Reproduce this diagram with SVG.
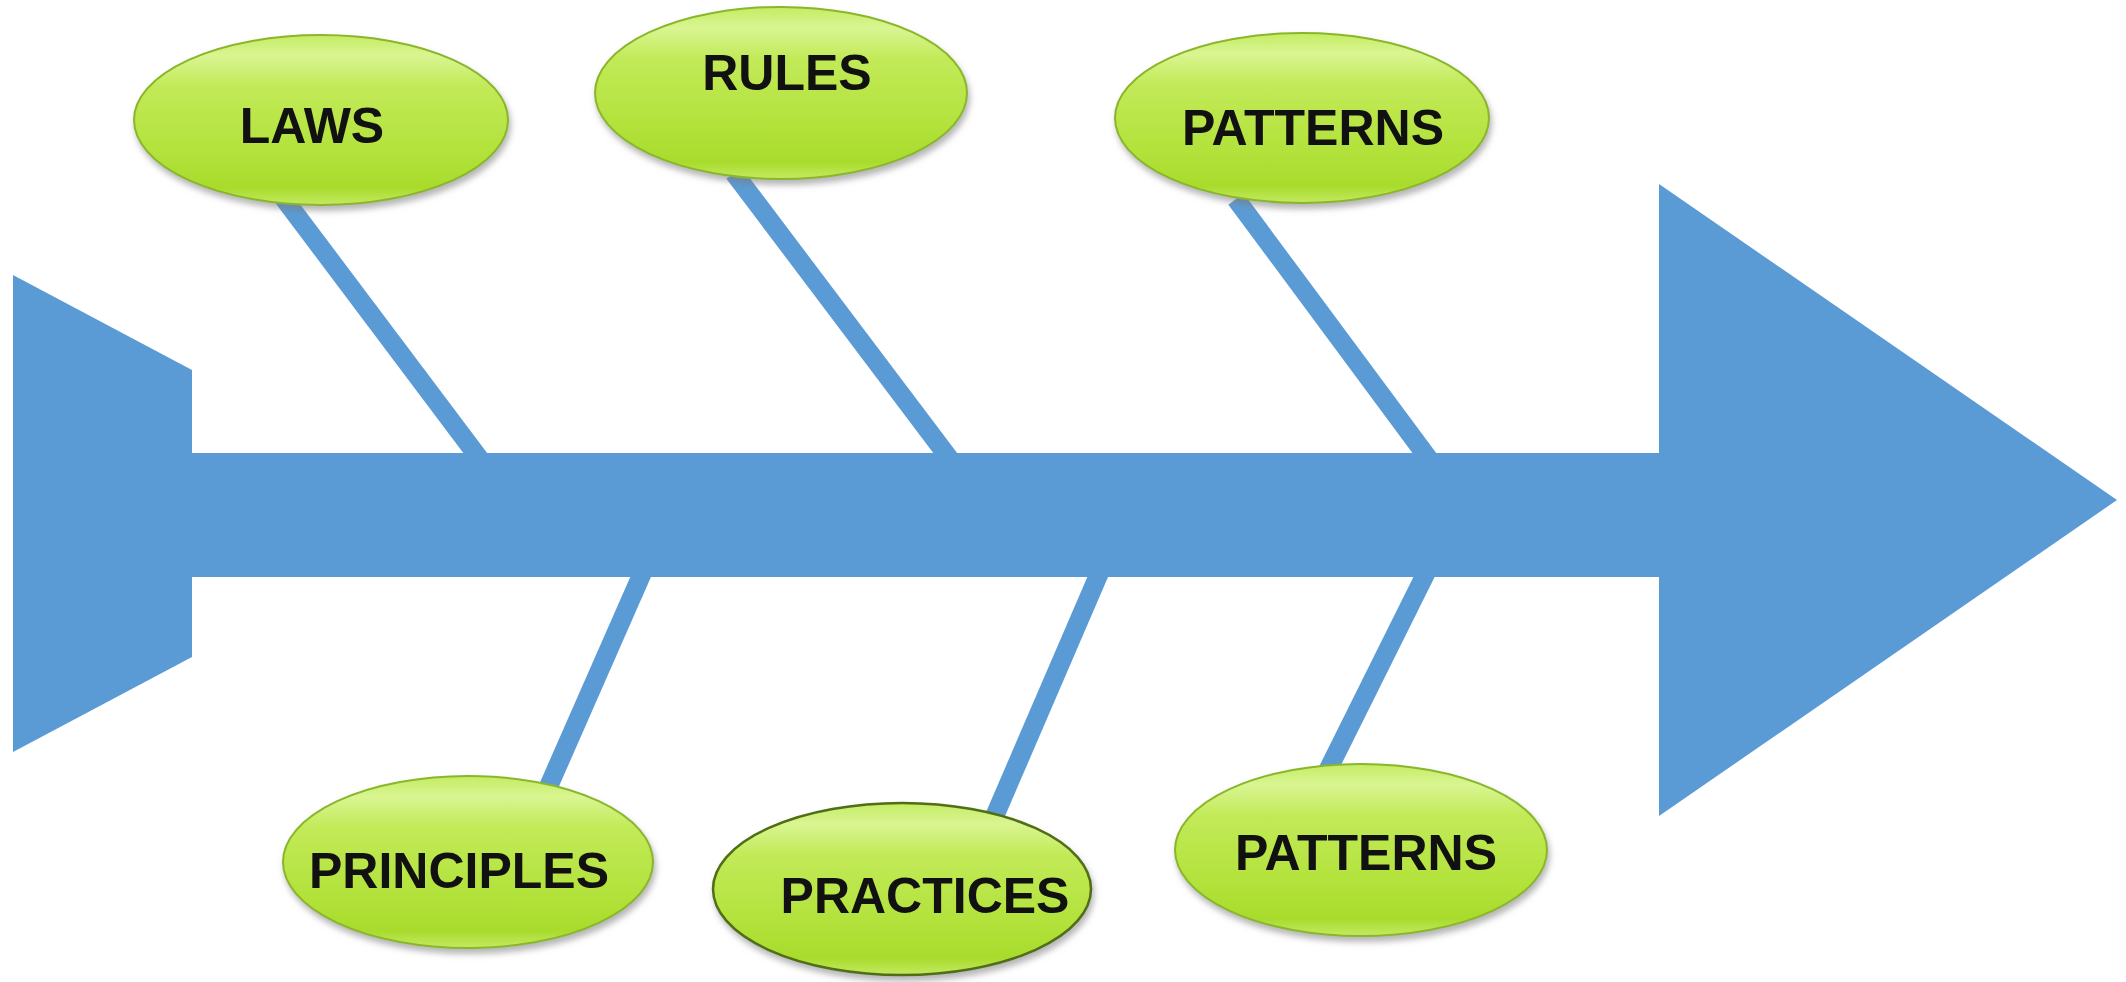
<svg xmlns="http://www.w3.org/2000/svg" width="2126" height="982" viewBox="0 0 2126 982">
  <style>
    .bone { stroke: #5b9bd5; stroke-width: 19; stroke-linecap: butt; fill: none; }
    .spine { fill: #5b9bd5; }
    .oval { fill: url(#limeGrad); stroke: #8ab62a; stroke-width: 2; filter: url(#softShadow); }
    .oval-dark { stroke: #4f6e12; stroke-width: 2.5; }
    .label { font-family: "Liberation Sans", Arial, sans-serif; font-weight: bold; font-size: 50px; fill: #111; text-anchor: middle; }
  </style>
  <defs>
    <linearGradient id="limeGrad" x1="0" y1="0" x2="0" y2="1">
      <stop offset="0" stop-color="#c4ec62"/>
      <stop offset="0.12" stop-color="#d9f592"/>
      <stop offset="0.3" stop-color="#c2ea58"/>
      <stop offset="0.7" stop-color="#b2e23a"/>
      <stop offset="0.9" stop-color="#a9db2c"/>
      <stop offset="1" stop-color="#c3ea62"/>
    </linearGradient>
    <filter id="softShadow" x="-10%" y="-10%" width="120%" height="130%">
      <feDropShadow dx="2" dy="5" stdDeviation="3" flood-color="#7a7a7a" flood-opacity="0.55"/>
    </filter>
  </defs>

  <rect width="2126" height="982" fill="#ffffff"/>

  <!-- connectors: the fish bones linking each cause to the spine -->
  <g id="connectors">
    <line class="bone" x1="282" y1="196" x2="482" y2="462"/>
    <line class="bone" x1="734" y1="173" x2="952" y2="462"/>
    <line class="bone" x1="1236" y1="199" x2="1431" y2="462"/>
    <line class="bone" x1="645" y1="567" x2="547" y2="790"/>
    <line class="bone" x1="1102" y1="567" x2="993" y2="820"/>
    <line class="bone" x1="1429" y1="567" x2="1325" y2="776"/>
  </g>

  <!-- spine: tail, shaft and head -->
  <g id="spine">
    <polygon class="spine" points="13,275 192,370 192,453 1659,453 1659,184 2117,500 1659,816 1659,577 192,577 192,657 13,752"/>
  </g>

  <g id="node-laws">
    <ellipse class="oval" cx="321" cy="120" rx="187" ry="85"/>
    <text class="label" x="312" y="143">LAWS</text>
  </g>

  <g id="node-rules">
    <ellipse class="oval" cx="781" cy="93" rx="186" ry="86"/>
    <text class="label" x="787" y="90">RULES</text>
  </g>

  <g id="node-patterns-top">
    <ellipse class="oval" cx="1302" cy="118" rx="187" ry="85"/>
    <text class="label" x="1313" y="145">PATTERNS</text>
  </g>

  <g id="node-principles">
    <ellipse class="oval" cx="468" cy="862" rx="185" ry="86"/>
    <text class="label" x="459" y="888">PRINCIPLES</text>
  </g>

  <g id="node-practices">
    <ellipse class="oval oval-dark" cx="902" cy="889" rx="189" ry="86"/>
    <text class="label" x="925" y="913">PRACTICES</text>
  </g>

  <g id="node-patterns-bottom">
    <ellipse class="oval" cx="1361" cy="850" rx="186" ry="86"/>
    <text class="label" x="1366" y="870">PATTERNS</text>
  </g>
</svg>
